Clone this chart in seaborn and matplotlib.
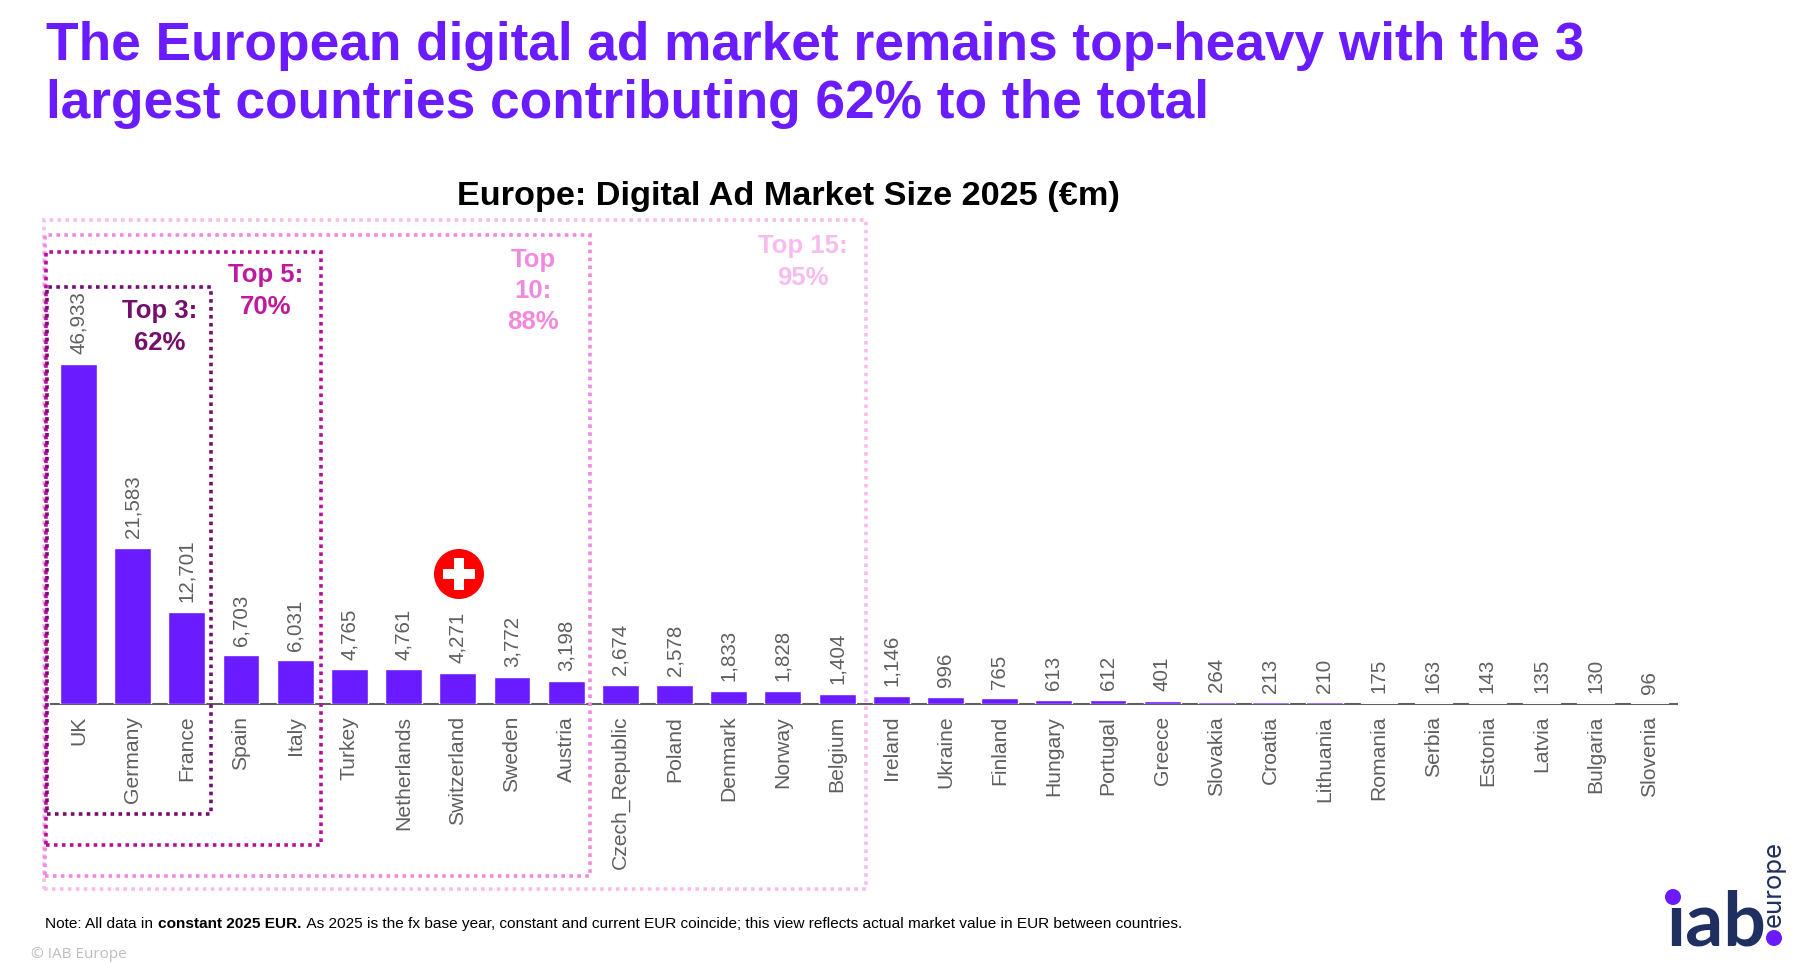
import matplotlib
matplotlib.use("Agg")
import matplotlib.pyplot as plt
from matplotlib.patches import Rectangle, Ellipse
import pandas as pd
import seaborn as sns

countries = ["UK","Germany","France","Spain","Italy","Turkey","Netherlands","Switzerland","Sweden","Austria",
             "Czech_Republic","Poland","Denmark","Norway","Belgium","Ireland","Ukraine","Finland","Hungary","Portugal",
             "Greece","Slovakia","Croatia","Lithuania","Romania","Serbia","Estonia","Latvia","Bulgaria","Slovenia"]
values = [46933,21583,12701,6703,6031,4765,4761,4271,3772,3198,
          2674,2578,1833,1828,1404,1146,996,765,613,612,
          401,264,213,210,175,163,143,135,130,96]

title_lines = ["The European digital ad market remains top-heavy with the 3",
               "largest countries contributing 62% to the total"]
chart_title = "Europe: Digital Ad Market Size 2025 (€m)"
boxes = [("Top 15:\n95%", "#F7BCEF", 44, 220, 866, 889, 803, 262),
         ("Top\n10:\n88%", "#F08ADF", 45, 235, 590, 876, 533, 291),
         ("Top 5:\n70%", "#B5109B", 46, 252, 321, 845, 266, 291),
         ("Top 3:\n62%", "#750F6D", 47, 287, 211, 814, 160, 327)]
label_colors = {"Top 5:\n70%": "#C0189F"}

W, H = 1800, 964
PURPLE = "#6A1BFF"
GREY = "#5F5F5F"
NAVY = "#1F2F5F"
SANS = "Liberation Sans"

sns.set_theme(style="white")
plt.rcParams["font.family"] = [SANS, "DejaVu Sans"]

fig = plt.figure(figsize=(W/100, H/100), dpi=100, facecolor="white")
def fx(x): return x / W
def fy(y): return 1 - y / H

left, right, top, bottom = 51.4, 1677, 200, 704
ax = fig.add_axes([fx(left), fy(bottom), fx(right - left), fy(top) - fy(bottom)])
ax.patch.set_alpha(0)

df = pd.DataFrame({"country": countries, "value": values})
sns.barplot(data=df, x="country", y="value", color=PURPLE, saturation=1, width=0.68, ax=ax)
ax.set_xlim(-0.5, len(countries) - 0.5)
ax.set_ylim(0, (bottom - top) / 0.00725)
ax.set_xlabel(""); ax.set_ylabel(""); ax.set_yticks([])
for s in ["top", "left", "right"]:
    ax.spines[s].set_visible(False)
ax.spines["bottom"].set_color(GREY)
ax.spines["bottom"].set_linewidth(1.5)
ax.spines["bottom"].set_zorder(0.5)
ax.tick_params(axis="x", length=0, pad=8.5, labelsize=15.2, labelcolor=GREY, rotation=90)

for i, v in enumerate(values):
    ax.annotate(f"{v:,}", (i, v), xytext=(0, 7), textcoords="offset points", rotation=90,
                ha="center", va="bottom", fontsize=14.8, color=GREY)

fig.text(fx(46), fy(60), title_lines[0], fontsize=38.3, fontweight="bold", color=PURPLE, va="baseline")
fig.text(fx(46), fy(118), title_lines[1], fontsize=38.3, fontweight="bold", color=PURPLE, va="baseline")
fig.text(fx(788), fy(196), chart_title, fontsize=24.7, fontweight="bold", color="black", ha="center", va="center")

for label, col, x0, y0, x1, y1, lx, ly in boxes:
    fig.add_artist(Rectangle((fx(x0), fy(y1)), fx(x1 - x0), fy(y0) - fy(y1), transform=fig.transFigure,
                             fill=False, edgecolor=col, linewidth=2.6, linestyle=(0, (1, 1.2))))
    fig.text(fx(lx), fy(ly), label, fontsize=18.5, fontweight="bold", color=label_colors.get(label, col),
             ha="center", va="center", linespacing=1.38)

# Swiss flag marker
fig.add_artist(Ellipse((fx(459), fy(574)), fx(50), fy(0) - fy(50), transform=fig.transFigure, color="#FF0000", lw=0))
fig.add_artist(Rectangle((fx(443), fy(579)), fx(32), fy(0) - fy(10), transform=fig.transFigure, color="white", lw=0))
fig.add_artist(Rectangle((fx(454), fy(590)), fx(10), fy(0) - fy(32), transform=fig.transFigure, color="white", lw=0))

# footnote with a bold run
fig.canvas.draw()
r = fig.canvas.get_renderer()
x = 45
for txt, wt in [("Note: All data in ", "normal"), ("constant 2025 EUR.", "bold"),
                (" As 2025 is the fx base year, constant and current EUR coincide; this view reflects actual market value in EUR between countries.", "normal")]:
    t = fig.text(fx(x), fy(928), txt, fontsize=11.05, fontweight=wt, color="black", va="baseline")
    x = t.get_window_extent(r).x1 + 1
fig.text(fx(31), fy(955), "© IAB Europe", fontsize=11, color="#BDBDBD", family="Open Sans", va="center")

# logo
fig.text(fx(1666), fy(945), "ıab", fontsize=54, fontweight="bold", family="Lato", color=NAVY, va="baseline")
fig.add_artist(Ellipse((fx(1673), fy(897)), fx(16), fy(0) - fy(16), transform=fig.transFigure, color=PURPLE, lw=0))
fig.add_artist(Ellipse((fx(1774), fy(938)), fx(16), fy(0) - fy(16), transform=fig.transFigure, color=PURPLE, lw=0))
fig.text(fx(1774), fy(927), "europe", fontsize=18.5, family="Inter", color=NAVY, rotation=90, ha="center", va="bottom")

fig.savefig("out.png", dpi=100)
